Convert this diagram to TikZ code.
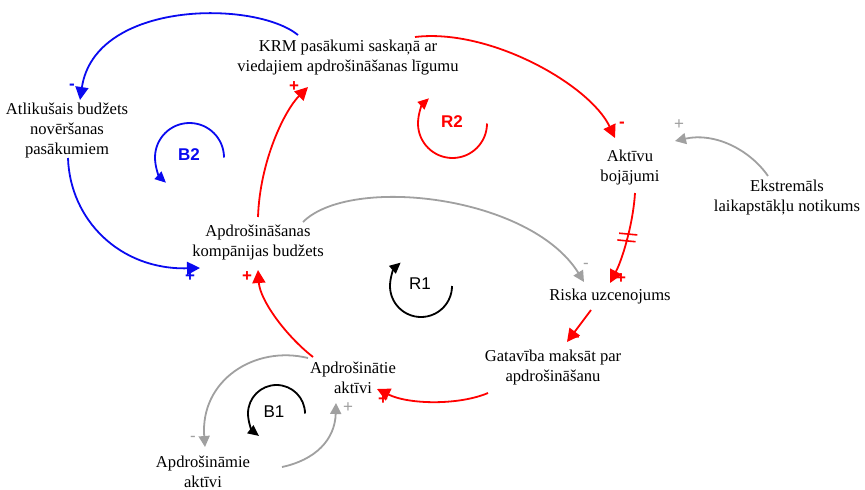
\documentclass[tikz,border=0pt]{standalone}
\usepackage{fontspec}
\setmainfont{Liberation Serif}
\newfontfamily\lsans{Liberation Sans}
\usetikzlibrary{arrows.meta,calc,decorations.markings}
\definecolor{cred}{RGB}{255,0,0}
\definecolor{cblue}{RGB}{10,10,240}
\definecolor{cgray}{RGB}{160,160,160}
\begin{document}
\begin{tikzpicture}[x=1pt,y=-1pt,
  var/.style={align=center, inner sep=1pt, font=\fontsize{16.6}{20}\selectfont},
  link/.style={line width=1.8pt, -{Triangle[length=13pt,width=13pt]}},
  glink/.style={line width=1.8pt, draw=cgray, -{Triangle[length=11pt,width=11pt]}},
  loopa/.style={line width=1.8pt, -{Triangle[length=11pt,width=10pt]}},
  pol/.style={font=\lsans\bfseries\fontsize{17}{17}\selectfont, inner sep=0pt},
  gpol/.style={font=\lsans\fontsize{17}{17}\selectfont, inner sep=0pt, text=cgray},
  loopl/.style={font=\lsans\fontsize{17}{17}\selectfont, inner sep=0pt},
  loopb/.style={font=\lsans\bfseries\fontsize{17}{17}\selectfont, inner sep=0pt},
]
\useasboundingbox (0,0) rectangle (865,490);

% variables
\node[var] (krm) at (348,58) {KRM pasākumi saskaņā ar\\viedajiem apdrošināšanas līgumu};
\node[var] (atl) at (67,130) {Atlikušais budžets\\novēršanas\\pasākumiem};
\node[var] (bud) at (258,242) {Apdrošināšanas\\kompānijas budžets};
\node[var] (akt) at (630,168) {Aktīvu\\bojājumi};
\node[var] (eks) at (787,198) {Ekstremāls\\laikapstākļu notikums};
\node[var] (ris) at (610,297) {Riska uzcenojums};
\node[var] (gat) at (553,368) {Gatavība maksāt par\\apdrošināšanu};
\node[var] (ati) at (353,378) {Apdrošinātie\\aktīvi};
\node[var] (ame) at (203,472) {Apdrošināmie\\aktīvi};

% links
\draw[link, cblue] ($(krm)+(-50,-23)$) .. controls (255,0) and (95,0) .. ($(atl)+(13,-30)$);
\draw[link, cblue] ($(atl)+(1,28)$) .. controls (70,220) and (120,270) .. ($(bud)+(-58,26)$);
\draw[link, cred] ($(bud)+(0,-25)$) .. controls (260,160) and (285,110) .. ($(krm)+(-40,29)$);
\draw[link, cred] ($(krm)+(67,-21)$) .. controls (490,28) and (590,85) .. ($(akt)+(-15,-30)$);
\draw[glink] ($(eks)+(-19,-22)$) .. controls (750,150) and (715,132) .. ($(akt)+(45,-27)$);
\draw[link, cred, postaction={decorate, decoration={markings,
    mark=at position 0.47 with {\draw[-, line width=1.6pt] (-4,-9) -- (-1,9) (3,-9) -- (6,9);}}}]
  ($(akt)+(5,25)$) .. controls (633,225) and (622,260) .. ($(ris)+(0,-14)$);
\draw[glink] ($(bud)+(45,-20)$) .. controls (350,175) and (530,195) .. ($(ris)+(-26,-15)$);
\draw[link, cred] ($(ris)+(-19,13)$) -- ($(gat)+(14,-26)$);
\draw[link, cred] ($(gat)+(-65,25)$) .. controls (460,405) and (410,405) .. ($(ati)+(24,11)$);
\draw[link, cred] ($(ati)+(-40,-21)$) .. controls (285,335) and (260,300) .. ($(bud)+(0,28)$);
\draw[glink] ($(ati)+(-45,-20)$) .. controls (255,345) and (200,380) .. ($(ame)+(2,-25)$);
\draw[glink] ($(ame)+(79,-5)$) .. controls (315,460) and (335,440) .. ($(ati)+(-17,25)$);

% polarities
\node[pol, text=cblue] (p1) at (72,87) {-};
\node[pol, text=cblue] (p2) at (190,277) {+};
\node[pol, text=cred] (p3) at (294,87) {+};
\node[pol, text=cred] (p4) at (622,125) {-};
\node[gpol] (p5) at (679,125) {+};
\node[gpol] (p6) at (586,266) {-};
\node[pol, text=cred] (p7) at (621,279) {+};
\node[pol, text=cred] (p8) at (577,339) {-};
\node[pol, text=cred] (p9) at (247,277) {+};
\node[pol, text=cred] (p10) at (383,400) {+};
\node[gpol] (p11) at (193,439) {-};
\node[gpol] (p12) at (348,408) {+};

% loops
\draw[loopa, cblue] (224,157.5) arc[start angle=0, end angle=-227, radius=34.5];
\node[loopb, text=cblue] (lb2) at (189,155) {B2};
\draw[loopa, cred] (487,123.5) arc[start angle=0, end angle=227, radius=34.5];
\node[loopb, text=cred] (lr2) at (452,122) {R2};
\draw[loopa, black] (452,286) arc[start angle=0, end angle=229, radius=31];
\node[loopl] (lr1) at (420,284) {R1};
\draw[loopa, black] (305,413.5) arc[start angle=0, end angle=-232, radius=28.5];
\node[loopl] (lb1) at (274,412) {B1};
\end{tikzpicture}
\end{document}
